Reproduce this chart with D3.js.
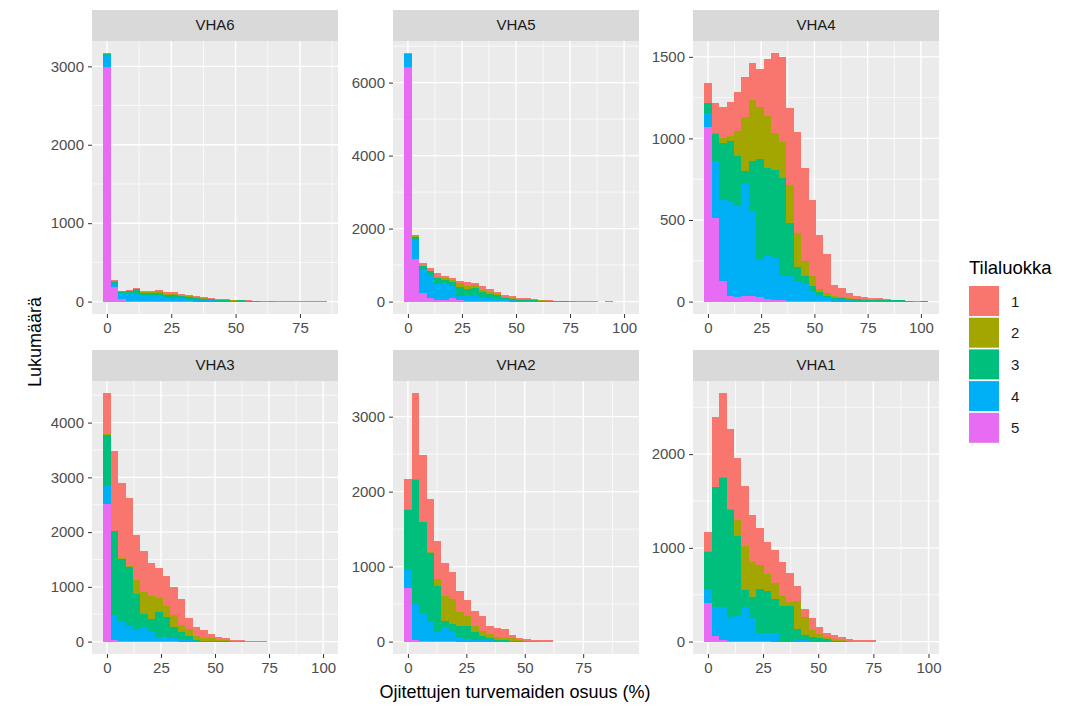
<!DOCTYPE html>
<html>
<head>
<meta charset="utf-8">
<script src="https://cdnjs.cloudflare.com/ajax/libs/d3/7.8.5/d3.min.js"></script>
<style>
body { margin: 0; background: #fff; }
text { font-family: "Liberation Sans", Arial, sans-serif; }
</style>
</head>
<body>
<script>
// Facets (order as drawn) and fill classes
var panels = ["VHA6", "VHA5", "VHA4", "VHA3", "VHA2", "VHA1"];
var classes = ["1", "2", "3", "4", "5"];
var colors = ["#F8766D", "#A3A500", "#00BF7D", "#00B0F6", "#E76BF3"];
// Largest x value in each facet (30 bins, first centred on 0)
var xMax = [84, 100, 101.5, 100, 92.5, 98];
var xTicks = [0, 25, 50, 75, 100];
var yTicks = [
  [0, 1000, 2000, 3000],
  [0, 2000, 4000, 6000],
  [0, 500, 1000, 1500],
  [0, 1000, 2000, 3000, 4000],
  [0, 1000, 2000, 3000],
  [0, 1000, 2000]
];

// Counts per bin, one row per class 1..5
var vha6 = [
  [5, 12, 4, 14, 10, 10, 12, 20, 20, 20, 20, 17, 18, 14, 12, 12, 10, 6, 7, 6, 8, 8, 4, 6, 5, 5, 4, 4, 4, 5],
  [0, 2, 2, 5, 2, 10, 10, 15, 15, 15, 10, 10, 8, 7, 8, 6, 5, 2, 0, 0, 0, 0, 5, 0, 0, 0, 0, 0, 0, 0],
  [10, 20, 12, 18, 45, 25, 25, 30, 40, 40, 25, 25, 20, 15, 12, 8, 5, 3, 2, 0, 0, 0, 0, 0, 0, 0, 0, 0, 0, 0],
  [160, 55, 85, 105, 105, 85, 80, 80, 45, 45, 40, 35, 25, 22, 15, 12, 10, 10, 12, 12, 2, 0, 0, 0, 0, 0, 0, 0, 0, 0],
  [2990, 180, 30, 8, 8, 5, 5, 5, 3, 3, 2, 2, 1, 0, 0, 0, 0, 0, 0, 0, 0, 0, 0, 0, 0, 0, 0, 0, 0, 0]
];
var vha5 = [
  [10, 30, 70, 80, 90, 60, 45, 75, 110, 55, 90, 90, 55, 50, 45, 35, 30, 25, 20, 14, 8, 5, 6, 10, 8, 6, 0, 6, 0, 0],
  [0, 10, 10, 10, 40, 60, 60, 90, 90, 90, 55, 45, 20, 25, 30, 25, 20, 16, 10, 8, 0, 5, 8, 0, 0, 0, 0, 0, 0, 0],
  [10, 90, 110, 130, 170, 120, 110, 245, 165, 220, 165, 120, 110, 60, 40, 30, 25, 20, 15, 10, 10, 10, 0, 0, 0, 0, 0, 0, 0, 0],
  [360, 510, 620, 620, 430, 420, 340, 135, 155, 125, 95, 80, 60, 40, 30, 20, 15, 12, 10, 8, 5, 0, 0, 0, 0, 0, 0, 0, 0, 0],
  [6420, 1180, 235, 90, 40, 50, 90, 30, 25, 20, 15, 10, 10, 5, 0, 0, 0, 0, 0, 0, 0, 0, 0, 0, 0, 0, 0, 0, 0, 0]
];
var vha4 = [
  [122, 182, 193, 214, 240, 244, 224, 228, 346, 488, 520, 475, 614, 569, 461, 330, 240, 72, 53, 30, 20, 13, 9, 6, 6, 4, 3, 5, 4, 0],
  [0, 7, 30, 30, 157, 335, 376, 319, 319, 224, 218, 230, 214, 91, 61, 20, 14, 8, 8, 5, 4, 3, 3, 5, 0, 0, 0, 0, 0, 0],
  [61, 163, 352, 372, 305, 71, 305, 620, 539, 539, 599, 325, 81, 51, 41, 20, 11, 8, 10, 8, 8, 6, 5, 6, 8, 6, 5, 0, 0, 0],
  [86, 354, 492, 577, 559, 691, 518, 230, 264, 258, 151, 154, 124, 105, 55, 35, 25, 16, 10, 8, 5, 4, 3, 3, 2, 2, 2, 1, 0, 6],
  [1069, 510, 128, 33, 26, 37, 37, 26, 16, 12, 8, 5, 4, 3, 2, 2, 1, 0, 0, 0, 0, 0, 0, 0, 0, 0, 0, 0, 0, 0]
];
var vha3 = [
  [748, 1444, 1377, 1244, 830, 757, 606, 563, 545, 503, 473, 194, 152, 145, 78, 49, 37, 30, 22, 18, 12, 10, 0, 0, 0, 0, 0, 0, 0, 0],
  [10, 10, 5, 10, 260, 394, 424, 255, 213, 224, 133, 121, 79, 55, 43, 25, 20, 6, 2, 0, 0, 0, 0, 0, 0, 0, 0, 0, 0, 0],
  [909, 1533, 1151, 1073, 643, 242, 230, 454, 363, 194, 122, 79, 24, 15, 16, 5, 4, 0, 0, 0, 0, 0, 0, 0, 0, 0, 0, 0, 0, 0],
  [351, 449, 354, 283, 212, 256, 178, 76, 77, 65, 47, 30, 6, 3, 2, 0, 0, 0, 0, 0, 0, 0, 0, 0, 0, 0, 0, 0, 0, 0],
  [2515, 36, 10, 8, 6, 5, 4, 3, 2, 2, 1, 0, 0, 0, 0, 0, 0, 0, 0, 0, 0, 0, 0, 0, 0, 0, 0, 0, 0, 0]
];
var vha2 = [
  [406, 1146, 890, 712, 509, 451, 363, 279, 217, 200, 190, 110, 119, 124, 44, 24, 27, 22, 22, 18, 0, 0, 0, 0, 0, 0, 0, 0, 0, 0],
  [10, 5, 4, 5, 89, 323, 331, 186, 124, 88, 66, 53, 31, 22, 31, 18, 8, 5, 0, 0, 0, 0, 0, 0, 0, 0, 0, 0, 0, 0],
  [779, 1659, 1216, 921, 619, 89, 102, 154, 177, 97, 58, 34, 19, 16, 10, 6, 0, 0, 0, 0, 0, 0, 0, 0, 0, 0, 0, 0, 0, 0],
  [252, 478, 376, 261, 121, 188, 131, 58, 35, 27, 22, 15, 8, 6, 3, 1, 0, 0, 0, 0, 0, 0, 0, 0, 0, 0, 0, 0, 0, 0],
  [721, 22, 5, 4, 3, 2, 2, 0, 0, 0, 0, 0, 0, 0, 0, 0, 0, 0, 0, 0, 0, 0, 0, 0, 0, 0, 0, 0, 0, 0]
];
var vha1 = [
  [202, 743, 896, 849, 662, 637, 499, 400, 336, 347, 361, 318, 153, 89, 121, 71, 46, 46, 28, 23, 21, 18, 14, 0, 0, 0, 0, 0, 0, 0],
  [7, 0, 7, 10, 170, 468, 379, 255, 184, 177, 107, 43, 300, 187, 81, 46, 18, 18, 13, 5, 0, 0, 0, 0, 0, 0, 0, 0, 0, 0],
  [400, 1278, 1373, 1161, 857, 180, 223, 471, 454, 365, 371, 365, 117, 59, 38, 30, 25, 10, 5, 0, 0, 0, 0, 0, 0, 0, 0, 0, 0, 0],
  [152, 308, 354, 243, 265, 369, 246, 86, 87, 88, 11, 10, 18, 12, 8, 5, 3, 0, 0, 0, 0, 0, 0, 0, 0, 0, 0, 0, 0, 0],
  [407, 64, 18, 5, 4, 3, 2, 2, 1, 0, 0, 0, 0, 0, 0, 0, 0, 0, 0, 0, 0, 0, 0, 0, 0, 0, 0, 0, 0, 0]
];
var counts = [vha6, vha5, vha4, vha3, vha2, vha1];

// Layout
var colX = [92, 393, 693];
var rowY = [10, 350];
var panelW = 246, stripH = 31, panelH = 273;

var fill = d3.scaleOrdinal().domain(classes).range(colors);

var svg = d3.select("body").append("svg")
  .attr("width", 1085)
  .attr("height", 710);

panels.forEach(function(name, i) {
  var g = svg.append("g")
    .attr("transform", "translate(" + colX[i % 3] + "," + rowY[Math.floor(i / 3)] + ")");

  var w = xMax[i] / 29;
  var span = xMax[i] + w;
  var x = d3.scaleLinear()
    .domain([-w / 2 - 0.05 * span, xMax[i] + w / 2 + 0.05 * span])
    .range([0, panelW]);

  // one row per bin, columns per class
  var bins = d3.range(30).map(function(k) {
    var row = { mid: k * w };
    classes.forEach(function(c, j) { row[c] = counts[i][j][k]; });
    return row;
  });
  // class 5 at the bottom, class 1 on top
  var series = d3.stack().keys(classes.slice().reverse())(bins);
  var top = d3.max(bins, function(b) { return d3.sum(classes, function(c) { return b[c]; }); });

  var y = d3.scaleLinear()
    .domain([-0.05 * top, 1.05 * top])
    .range([stripH + panelH, stripH]);

  // strip
  g.append("rect")
    .attr("width", panelW).attr("height", stripH)
    .attr("fill", "#D9D9D9");
  g.append("text")
    .attr("x", panelW / 2).attr("y", stripH / 2 + 1)
    .attr("text-anchor", "middle")
    .attr("dominant-baseline", "middle")
    .attr("font-size", 15)
    .attr("fill", "#1A1A1A")
    .text(name);

  // panel
  g.append("rect")
    .attr("y", stripH)
    .attr("width", panelW).attr("height", panelH)
    .attr("fill", "#EBEBEB");

  var yStep = yTicks[i][1] - yTicks[i][0];
  var yMinor = yTicks[i].map(function(t) { return t + yStep / 2; })
    .concat([yTicks[i][0] - yStep / 2])
    .filter(function(v) { return v > y.domain()[0] && v < y.domain()[1]; });
  var xTk = xTicks.filter(function(v) { return v > x.domain()[0] && v < x.domain()[1]; });
  var xMinor = d3.range(-12.5, 120, 25)
    .filter(function(v) { return v > x.domain()[0] && v < x.domain()[1]; });

  g.selectAll("line.ymin").data(yMinor).enter().append("line")
    .attr("x1", 0).attr("x2", panelW)
    .attr("y1", d => y(d)).attr("y2", d => y(d))
    .attr("stroke", "#fff").attr("stroke-width", 0.7);
  g.selectAll("line.xmin").data(xMinor).enter().append("line")
    .attr("y1", stripH).attr("y2", stripH + panelH)
    .attr("x1", d => x(d)).attr("x2", d => x(d))
    .attr("stroke", "#fff").attr("stroke-width", 0.7);
  g.selectAll("line.ymaj").data(yTicks[i]).enter().append("line")
    .attr("x1", 0).attr("x2", panelW)
    .attr("y1", d => y(d)).attr("y2", d => y(d))
    .attr("stroke", "#fff").attr("stroke-width", 1.4);
  g.selectAll("line.xmaj").data(xTk).enter().append("line")
    .attr("y1", stripH).attr("y2", stripH + panelH)
    .attr("x1", d => x(d)).attr("x2", d => x(d))
    .attr("stroke", "#fff").attr("stroke-width", 1.4);

  // stacked bars
  g.selectAll("g.layer").data(series).enter().append("g")
    .attr("fill", d => fill(d.key))
    .selectAll("rect").data(d => d.filter(p => p[1] > p[0])).enter().append("rect")
      .attr("x", d => x(d.data.mid - w / 2))
      .attr("width", d => x(d.data.mid + w / 2) - x(d.data.mid - w / 2))
      .attr("y", d => y(d[1]))
      .attr("height", d => y(d[0]) - y(d[1]))
      .attr("shape-rendering", "crispEdges");

  // axes
  var ya = g.append("g")
    .call(d3.axisLeft(y).tickValues(yTicks[i]).tickFormat(d3.format("d")).tickSize(4).tickPadding(4));
  var xa = g.append("g")
    .attr("transform", "translate(0," + (stripH + panelH) + ")")
    .call(d3.axisBottom(x).tickValues(xTk).tickFormat(d3.format("d")).tickSize(4).tickPadding(4));
  [ya, xa].forEach(function(a) {
    a.select(".domain").remove();
    a.selectAll(".tick line").attr("stroke", "#333").attr("stroke-width", 1);
    a.selectAll(".tick text")
      .attr("fill", "#4D4D4D")
      .attr("font-size", 15)
      .attr("font-family", "Liberation Sans, Arial, sans-serif");
  });
});

// axis titles
svg.append("text")
  .attr("x", 515).attr("y", 698)
  .attr("text-anchor", "middle")
  .attr("font-size", 18)
  .attr("fill", "#000")
  .text("Ojitettujen turvemaiden osuus (%)");
svg.append("text")
  .attr("transform", "translate(41,342) rotate(-90)")
  .attr("text-anchor", "middle")
  .attr("font-size", 18)
  .attr("fill", "#000")
  .text("Lukumäärä");

// legend
var legend = svg.append("g").attr("transform", "translate(969,0)");
legend.append("text")
  .attr("x", 0).attr("y", 274)
  .attr("font-size", 18.5)
  .attr("fill", "#000")
  .text("Tilaluokka");
legend.selectAll("rect").data(classes).enter().append("rect")
  .attr("x", 0)
  .attr("y", (d, i) => 286 + i * 31.7)
  .attr("width", 30).attr("height", 30)
  .attr("fill", d => fill(d));
legend.selectAll("text.lab").data(classes).enter().append("text")
  .attr("class", "lab")
  .attr("x", 42)
  .attr("y", (d, i) => 286 + i * 31.7 + 15)
  .attr("dominant-baseline", "central")
  .attr("font-size", 15)
  .attr("fill", "#1A1A1A")
  .text(d => d);
</script>
</body>
</html>
